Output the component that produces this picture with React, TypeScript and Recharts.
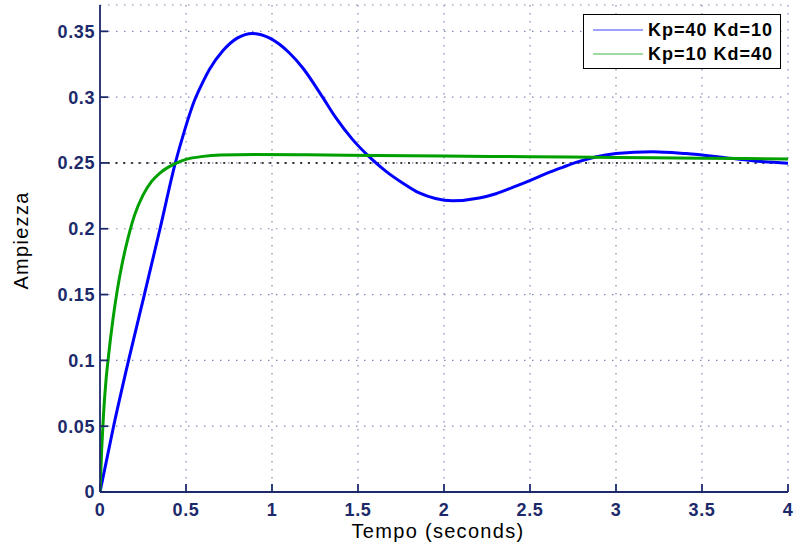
import React from 'react';
import {
  LineChart,
  Line,
  XAxis,
  YAxis,
  CartesianGrid,
  ReferenceLine,
  Legend,
} from 'recharts';

// Step responses of the two PD tunings: time (s) and amplitude
const blueTimes = [0, 0.079, 0.166, 0.258, 0.349, 0.438, 0.49, 0.548, 0.6, 0.636, 0.713, 0.8, 0.887, 0.984, 1.1, 1.178, 1.294, 1.372, 1.469, 1.566, 1.663, 1.759, 1.856, 1.95, 2.05, 2.205, 2.302, 2.399, 2.502, 2.593, 2.69, 2.787, 2.88, 3.0, 3.213, 3.407, 3.6, 3.794, 4.0];
const blueValues = [0, 0.05, 0.1, 0.15, 0.2, 0.25, 0.274, 0.297, 0.312, 0.321, 0.335, 0.345, 0.3484, 0.345, 0.3337, 0.3223, 0.3, 0.2842, 0.2677, 0.2546, 0.2436, 0.2348, 0.2272, 0.223, 0.2213, 0.2234, 0.2266, 0.2314, 0.2368, 0.2419, 0.2467, 0.2512, 0.2545, 0.2571, 0.2586, 0.2571, 0.2546, 0.2517, 0.2497];

const greenTimes = [0, 0.01, 0.02, 0.035, 0.05, 0.075, 0.1, 0.125, 0.15, 0.175, 0.2, 0.25, 0.3, 0.35, 0.4, 0.45, 0.5, 0.6, 0.7, 0.9, 1.2, 1.6, 2.0, 2.5, 3.0, 3.5, 4.0];
const greenValues = [0, 0.033, 0.058, 0.085, 0.104, 0.131, 0.153, 0.171, 0.186, 0.199, 0.21, 0.2255, 0.236, 0.2425, 0.247, 0.2503, 0.2527, 0.255, 0.256, 0.2564, 0.2562, 0.2557, 0.2552, 0.2547, 0.2542, 0.2536, 0.253];

const seriesNames = ['Kp=40 Kd=10', 'Kp=10 Kd=40'];
const seriesColors = ['#0000ff', '#00a000'];

const xTicks = [0, 0.5, 1, 1.5, 2, 2.5, 3, 3.5, 4];
const yTicks = [0, 0.05, 0.1, 0.15, 0.2, 0.25, 0.3, 0.35];
const steadyState = 0.25;

const xTitle = 'Tempo (seconds)';
const yTitle = 'Ampiezza';

const blueData = blueTimes.map((t, i) => ({ t, v: blueValues[i] }));
const greenData = greenTimes.map((t, i) => ({ t, v: greenValues[i] }));

const AXIS = '#1c2a6b';
const FONT = '"Liberation Sans", Arial, Helvetica, sans-serif';

const fmt = (v: number) => String(+v.toFixed(2));

const tickStyle = {
  fill: AXIS,
  fontSize: 18,
  fontWeight: 700,
  fontFamily: FONT,
  letterSpacing: 0.6,
};

function LegendBox() {
  return (
    <div
      style={{
        position: 'relative',
        width: 198,
        height: 55,
        boxSizing: 'border-box',
        border: '1px solid #000',
        background: '#fff',
        fontFamily: FONT,
      }}
    >
      {seriesNames.map((name, i) => (
        <div
          key={name}
          style={{
            position: 'absolute',
            left: 0,
            top: 3 + i * 24,
            height: 24,
            display: 'flex',
            alignItems: 'center',
          }}
        >
          <svg width={64} height={24} style={{ display: 'block' }}>
            <line x1={9} x2={59} y1={12} y2={12} stroke={seriesColors[i]} strokeWidth={1} strokeOpacity={0.75} />
          </svg>
          <span
            style={{
              fontSize: 18,
              fontWeight: 700,
              color: '#000',
              letterSpacing: 1,
              whiteSpace: 'nowrap',
            }}
          >
            {name}
          </span>
        </div>
      ))}
    </div>
  );
}

export default function App() {
  return (
    <div style={{ position: 'absolute', left: 0, top: 0, background: '#fff' }}>
      <LineChart
        width={795}
        height={549}
        margin={{ top: 5, right: 7, bottom: 27, left: 0 }}
        style={{ fontFamily: FONT }}
      >
        <CartesianGrid stroke="#7f8ab8" strokeDasharray="1.5 6.5" strokeWidth={1.2} />
        <XAxis
          dataKey="t"
          type="number"
          domain={[0, 4]}
          ticks={xTicks}
          allowDataOverflow
          height={30}
          tickFormatter={fmt}
          tick={tickStyle}
          tickSize={-8}
          tickMargin={19}
          stroke={AXIS}
          strokeWidth={1.8}
          label={{
            value: xTitle,
            position: 'bottom',
            offset: 2,
            dx: -6,
            style: { fill: '#000', fontSize: 20, fontFamily: FONT, letterSpacing: 1.3 },
          }}
        />
        <XAxis
          xAxisId="top"
          orientation="top"
          type="number"
          domain={[0, 4]}
          ticks={xTicks}
          height={0}
          tick={false}
          tickSize={-8}
          stroke={AXIS}
          strokeWidth={1.8}
        />
        <YAxis
          type="number"
          domain={[0, 0.37]}
          ticks={yTicks}
          allowDataOverflow
          width={100}
          tickFormatter={fmt}
          tick={tickStyle}
          tickSize={-8}
          tickMargin={13}
          stroke={AXIS}
          strokeWidth={1.8}
          label={{
            value: yTitle,
            angle: -90,
            position: 'insideLeft',
            offset: 21,
            dy: -8,
            style: { fill: '#000', fontSize: 20, fontFamily: FONT, letterSpacing: 1.3, textAnchor: 'middle' },
          }}
        />
        <YAxis
          yAxisId="right"
          orientation="right"
          type="number"
          domain={[0, 0.37]}
          ticks={yTicks}
          width={0}
          tick={false}
          tickSize={-8}
          stroke={AXIS}
          strokeWidth={1.8}
        />
        <ReferenceLine y={steadyState} stroke="#000" strokeDasharray="2 5.7" strokeWidth={1.5} />
        <Line
          data={blueData}
          dataKey="v"
          name={seriesNames[0]}
          type="monotone"
          stroke={seriesColors[0]}
          strokeWidth={3}
          dot={false}
          activeDot={false}
          isAnimationActive={false}
        />
        <Line
          data={greenData}
          dataKey="v"
          name={seriesNames[1]}
          type="monotone"
          stroke={seriesColors[1]}
          strokeWidth={3}
          dot={false}
          activeDot={false}
          isAnimationActive={false}
        />
        <Legend
          layout="horizontal"
          verticalAlign="middle"
          align="center"
          content={() => <LegendBox />}
          wrapperStyle={{ top: 14, left: 583, width: 198, height: 55, right: 'auto', bottom: 'auto' }}
        />
      </LineChart>
    </div>
  );
}
